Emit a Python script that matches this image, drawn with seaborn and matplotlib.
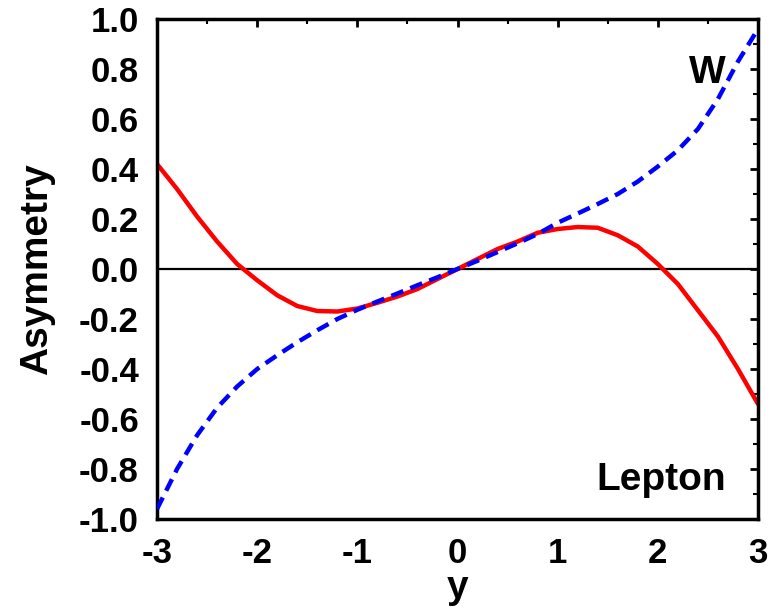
import matplotlib
matplotlib.use("Agg")
import matplotlib.pyplot as plt
from matplotlib.ticker import MultipleLocator, FormatStrFormatter
import seaborn as sns
import pandas as pd

y_rap = [-3.0, -2.8, -2.6, -2.4, -2.2, -2.0, -1.8, -1.6, -1.4, -1.2, -1.0,
         -0.8, -0.6, -0.4, -0.2, 0.0, 0.2, 0.4, 0.6, 0.8, 1.0, 1.2, 1.4,
         1.6, 1.8, 2.0, 2.2, 2.4, 2.6, 2.8, 3.0]
asym_W = [-0.96, -0.80, -0.665, -0.555, -0.47, -0.40, -0.345, -0.293, -0.245,
          -0.20, -0.163, -0.13, -0.098, -0.065, -0.033, 0.0, 0.033, 0.068,
          0.103, 0.14, 0.185, 0.222, 0.26, 0.30, 0.35, 0.41, 0.475, 0.56,
          0.68, 0.83, 0.96]
asym_lepton = [0.42, 0.32, 0.21, 0.11, 0.02, -0.045, -0.105, -0.148, -0.168,
               -0.17, -0.158, -0.135, -0.11, -0.08, -0.04, 0.0, 0.04, 0.08,
               0.11, 0.145, 0.16, 0.168, 0.165, 0.135, 0.09, 0.02, -0.06,
               -0.165, -0.27, -0.40, -0.54]

df = pd.DataFrame({"y": y_rap, "W": asym_W, "Lepton": asym_lepton})

sns.set_style("white")
plt.rcParams['font.family'] = ['Liberation Sans', 'DejaVu Sans']
plt.rcParams['font.weight'] = 'bold'
plt.rcParams['text.color'] = 'black'
plt.rcParams['axes.labelcolor'] = 'black'
plt.rcParams['xtick.color'] = 'black'
plt.rcParams['ytick.color'] = 'black'

fig = plt.figure(figsize=(7.8, 6.13), dpi=100)
ax = fig.add_axes([0.2013, 0.1533, 0.7705, 0.8157])

ax.axhline(0, color='black', lw=1.6, zorder=1)
sns.lineplot(data=df, x="y", y="Lepton", ax=ax, color='#ff0000', lw=3.2, zorder=2)
sns.lineplot(data=df, x="y", y="W", ax=ax, color='#0000ff', lw=3.2, zorder=3,
             dashes=False)
ax.lines[-1].set_linestyle((0, (2.9, 1.7)))

ax.set_xlim(-3, 3)
ax.set_ylim(-1, 1)
ax.xaxis.set_major_locator(MultipleLocator(1))
ax.xaxis.set_minor_locator(MultipleLocator(0.5))
ax.yaxis.set_major_locator(MultipleLocator(0.2))
ax.yaxis.set_minor_locator(MultipleLocator(0.1))
ax.yaxis.set_major_formatter(FormatStrFormatter('%.1f'))
ax.xaxis.set_major_formatter(FormatStrFormatter('%d'))

ax.tick_params(which='both', direction='in', top=True, right=True, color='black')
ax.tick_params(which='major', length=6, width=2)
ax.tick_params(which='minor', length=3.5, width=1.5)
ax.tick_params(axis='x', which='major', labelsize=25, pad=13, labelcolor='black')
ax.tick_params(axis='y', which='major', labelsize=25, pad=13, labelcolor='black')
for lab in ax.get_xticklabels() + ax.get_yticklabels():
    lab.set_fontweight('bold')

for sp in ax.spines.values():
    sp.set_visible(True)
    sp.set_linewidth(2.5)
    sp.set_color('black')

ax.set_xlabel("y", fontsize=28, fontweight='bold', labelpad=0, color='black')
ax.set_ylabel("Asymmetry", fontsize=28, fontweight='bold', labelpad=17, color='black')

ax.text(2.68, 0.744, "W", fontsize=28, fontweight='bold', ha='right',
        va='baseline', color='black')
ax.text(2.68, -0.884, "Lepton", fontsize=28, fontweight='bold', ha='right',
        va='baseline', color='black')

fig.savefig("out.png", dpi=100)
